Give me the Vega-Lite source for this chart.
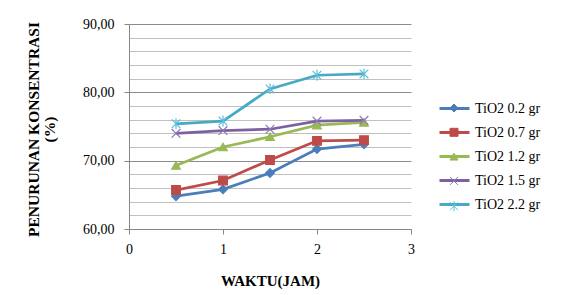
{
  "$schema": "https://vega.github.io/schema/vega-lite/v6.json",
  "width": 282,
  "height": 205,
  "autosize": {"type": "none"},
  "padding": {"left": 129, "top": 24, "right": 152, "bottom": 66},
  "background": "white",
  "config": {"view": {"stroke": null}, "font": "Liberation Serif"},
  "data": {
    "values": [
      {"waktu": 0.5, "penurunan": 64.8, "series": "TiO2 0.2 gr", "marker": "TiO2 0.2 gr"},
      {"waktu": 1.0, "penurunan": 65.8, "series": "TiO2 0.2 gr", "marker": "TiO2 0.2 gr"},
      {"waktu": 1.5, "penurunan": 68.2, "series": "TiO2 0.2 gr", "marker": "TiO2 0.2 gr"},
      {"waktu": 2.0, "penurunan": 71.7, "series": "TiO2 0.2 gr", "marker": "TiO2 0.2 gr"},
      {"waktu": 2.5, "penurunan": 72.4, "series": "TiO2 0.2 gr", "marker": "TiO2 0.2 gr"},
      {"waktu": 0.5, "penurunan": 65.7, "series": "TiO2 0.7 gr", "marker": "TiO2 0.7 gr"},
      {"waktu": 1.0, "penurunan": 67.1, "series": "TiO2 0.7 gr", "marker": "TiO2 0.7 gr"},
      {"waktu": 1.5, "penurunan": 70.1, "series": "TiO2 0.7 gr", "marker": "TiO2 0.7 gr"},
      {"waktu": 2.0, "penurunan": 72.9, "series": "TiO2 0.7 gr", "marker": "TiO2 0.7 gr"},
      {"waktu": 2.5, "penurunan": 73.0, "series": "TiO2 0.7 gr", "marker": "TiO2 0.7 gr"},
      {"waktu": 0.5, "penurunan": 69.3, "series": "TiO2 1.2 gr", "marker": "TiO2 1.2 gr"},
      {"waktu": 1.0, "penurunan": 72.0, "series": "TiO2 1.2 gr", "marker": "TiO2 1.2 gr"},
      {"waktu": 1.5, "penurunan": 73.5, "series": "TiO2 1.2 gr", "marker": "TiO2 1.2 gr"},
      {"waktu": 2.0, "penurunan": 75.2, "series": "TiO2 1.2 gr", "marker": "TiO2 1.2 gr"},
      {"waktu": 2.5, "penurunan": 75.6, "series": "TiO2 1.2 gr", "marker": "TiO2 1.2 gr"},
      {"waktu": 0.5, "penurunan": 74.0, "series": "TiO2 1.5 gr", "marker": "TiO2 1.5 gr"},
      {"waktu": 1.0, "penurunan": 74.4, "series": "TiO2 1.5 gr", "marker": "TiO2 1.5 gr"},
      {"waktu": 1.5, "penurunan": 74.6, "series": "TiO2 1.5 gr", "marker": "TiO2 1.5 gr"},
      {"waktu": 2.0, "penurunan": 75.8, "series": "TiO2 1.5 gr", "marker": "TiO2 1.5 gr"},
      {"waktu": 2.5, "penurunan": 75.9, "series": "TiO2 1.5 gr", "marker": "TiO2 1.5 gr"},
      {"waktu": 0.5, "penurunan": 75.4, "series": "TiO2 2.2 gr", "marker": "TiO2 2.2 gr"},
      {"waktu": 1.0, "penurunan": 75.8, "series": "TiO2 2.2 gr", "marker": "TiO2 2.2 gr"},
      {"waktu": 1.5, "penurunan": 80.5, "series": "TiO2 2.2 gr", "marker": "TiO2 2.2 gr"},
      {"waktu": 2.0, "penurunan": 82.5, "series": "TiO2 2.2 gr", "marker": "TiO2 2.2 gr"},
      {"waktu": 2.5, "penurunan": 82.7, "series": "TiO2 2.2 gr", "marker": "TiO2 2.2 gr"}
    ]
  },
  "encoding": {
    "x": {
      "field": "waktu",
      "type": "quantitative",
      "scale": {"domain": [0, 3]},
      "axis": {
        "values": [0, 1, 2, 3],
        "format": "d",
        "grid": false,
        "tickSize": 5,
        "tickColor": "#868686",
        "domainColor": "#868686",
        "labelFont": "Liberation Serif",
        "labelFontSize": 14,
        "labelColor": "#000000",
        "labelPadding": 8,
        "labelFlush": false,
        "title": "WAKTU(JAM)",
        "titleFont": "Liberation Serif",
        "titleFontSize": 15,
        "titleFontWeight": "bold",
        "titleColor": "#000000",
        "titleY": 51,
        "titleBaseline": "middle"
      }
    },
    "y": {
      "field": "penurunan",
      "type": "quantitative",
      "scale": {"domain": [60, 90]},
      "axis": {
        "values": [60, 62, 64, 66, 68, 70, 72, 74, 76, 78, 80, 82, 84, 86, 88, 90],
        "labelExpr": "datum.value % 10 === 0 ? replace(format(datum.value, '.2f'), '.', ',') : ''",
        "labelFont": "Liberation Serif",
        "labelFontSize": 14,
        "labelColor": "#000000",
        "labelPadding": 10,
        "tickSize": 5,
        "tickColor": "#868686",
        "tickOpacity": {"condition": {"test": "datum.value % 10 === 0", "value": 1}, "value": 0},
        "gridColor": {"condition": {"test": "datum.value % 10 === 0", "value": "#8c8c8c"}, "value": "#c0c0c0"},
        "domainColor": "#868686",
        "title": ["PENURUNAN KONSENTRASI", "(%)"],
        "titleFont": "Liberation Serif",
        "titleFontSize": 15.5,
        "titleFontWeight": "bold",
        "titleColor": "#000000",
        "titleX": -96,
        "titleY": 105,
        "titleAngle": -90,
        "titleAlign": "center",
        "titleBaseline": "middle",
        "titleLineHeight": 16
      }
    }
  },
  "layer": [
    {
      "mark": {"type": "line", "strokeWidth": 2.75},
      "encoding": {
        "color": {
          "field": "series",
          "type": "nominal",
          "scale": {
            "domain": ["TiO2 0.2 gr", "TiO2 0.7 gr", "TiO2 1.2 gr", "TiO2 1.5 gr", "TiO2 2.2 gr"],
            "range": ["#4A7EBB", "#BE4B48", "#98B954", "#7D60A0", "#46AAC5"]
          },
          "legend": {
            "orient": "none",
            "legendX": 309,
            "legendY": 68,
            "title": null,
            "padding": 0,
            "symbolType": "stroke",
            "symbolSize": 900,
            "symbolStrokeWidth": 3,
            "labelFont": "Liberation Serif",
            "labelFontSize": 14,
            "labelColor": "#000000",
            "labelOffset": 4,
            "rowPadding": 0
          }
        }
      }
    },
    {
      "mark": {"type": "point", "filled": true, "opacity": 1, "size": 75, "strokeWidth": 1.2},
      "encoding": {
        "fill": {
          "field": "marker",
          "type": "nominal",
          "scale": {"range": ["#4A7EBB", "#BE4B48", "#98B954", "#7D60A0", "#46AAC5"]},
          "legend": {
            "orient": "none",
            "legendX": 320,
            "legendY": 79,
            "title": null,
            "padding": 0,
            "symbolSize": 64,
            "symbolStrokeWidth": 1,
            "labelExpr": "''",
            "rowPadding": 12.3
          }
        },
        "stroke": {
          "field": "marker",
          "type": "nominal",
          "scale": {"range": ["#4A7EBB", "#BE4B48", "#98B954", "#8E78B8", "#5CC0DA"]},
          "legend": {
            "orient": "none",
            "legendX": 320,
            "legendY": 79,
            "title": null,
            "padding": 0,
            "symbolSize": 64,
            "symbolStrokeWidth": 1,
            "labelExpr": "''",
            "rowPadding": 12.3
          }
        },
        "shape": {
          "field": "marker",
          "type": "nominal",
          "scale": {
            "range": ["diamond", "square", "triangle-up", "M-1,-1L1,1M-1,1L1,-1", "M-1,-1L1,1M-1,1L1,-1M0,-1.25L0,1.25"]
          },
          "legend": {
            "orient": "none",
            "legendX": 320,
            "legendY": 79,
            "title": null,
            "padding": 0,
            "symbolSize": 64,
            "symbolStrokeWidth": 1,
            "labelExpr": "''",
            "rowPadding": 12.3
          }
        }
      }
    }
  ]
}
